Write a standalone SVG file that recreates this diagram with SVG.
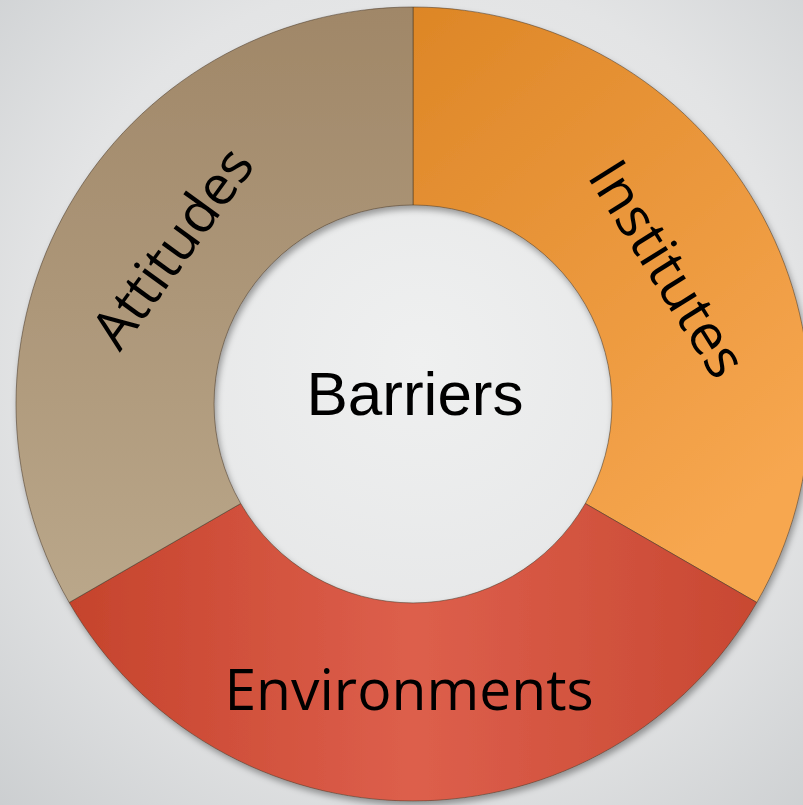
<svg xmlns="http://www.w3.org/2000/svg" width="803" height="805" viewBox="0 0 803 805">
  <defs>
    <radialGradient id="bg" cx="420" cy="360" r="640" gradientUnits="userSpaceOnUse">
      <stop offset="0" stop-color="#eff0f0"/>
      <stop offset="0.6" stop-color="#e3e4e5"/>
      <stop offset="1" stop-color="#c9ccce"/>
    </radialGradient>
    <linearGradient id="gAtt" x1="0" y1="0" x2="0" y2="1">
      <stop offset="0" stop-color="#a08768"/>
      <stop offset="1" stop-color="#baa78a"/>
    </linearGradient>
    <linearGradient id="gIns" x1="0" y1="0" x2="0.6" y2="1">
      <stop offset="0" stop-color="#dd8626"/>
      <stop offset="1" stop-color="#f7a750"/>
    </linearGradient>
    <linearGradient id="gEnv" x1="0" y1="0" x2="1" y2="0">
      <stop offset="0" stop-color="#c5432c"/>
      <stop offset="0.5" stop-color="#dd5f4c"/>
      <stop offset="1" stop-color="#c84832"/>
    </linearGradient>
    <filter id="shadow" x="-10%" y="-10%" width="120%" height="120%">
      <feDropShadow dx="2" dy="4" stdDeviation="3" flood-color="#000" flood-opacity="0.35"/>
    </filter>
  </defs>
  <style>
    .seg { stroke: #4a3a2a; stroke-opacity: 0.55; stroke-width: 1; }
    .lbl { font-family: "Open Sans", "Noto Sans", sans-serif; font-size: 57px; fill: #000; text-anchor: middle; }
    .ctr { font-family: "Liberation Sans", Arial, sans-serif; font-size: 62px; fill: #000; text-anchor: middle; }
  </style>
  <rect width="803" height="805" fill="url(#bg)"/>
  <g id="ring" filter="url(#shadow)">
    <g id="institutes">
      <path class="seg" fill="url(#gIns)" d="M 413,7 A 397 397 0 0 1 756.8,602.5 L 585.3,503.5 A 199 199 0 0 0 413,205 Z"/>
    </g>
    <g id="environments">
      <path class="seg" fill="url(#gEnv)" d="M 756.8,602.5 A 397 397 0 0 1 69.2,602.5 L 240.7,503.5 A 199 199 0 0 0 585.3,503.5 Z"/>
    </g>
    <g id="attitudes">
      <path class="seg" fill="url(#gAtt)" d="M 69.2,602.5 A 397 397 0 0 1 413,7 L 413,205 A 199 199 0 0 0 240.7,503.5 Z"/>
    </g>
  </g>
  <g id="labels">
    <text class="lbl" style="font-size:55px" transform="translate(188,259) rotate(-54)">Attitudes</text>
    <text class="lbl" style="font-size:56px" transform="translate(651,279) rotate(58)">Institutes</text>
    <text class="lbl" x="409" y="710">Environments</text>
  </g>
  <g id="barriers">
    <text class="ctr" x="415" y="415">Barriers</text>
  </g>
</svg>
